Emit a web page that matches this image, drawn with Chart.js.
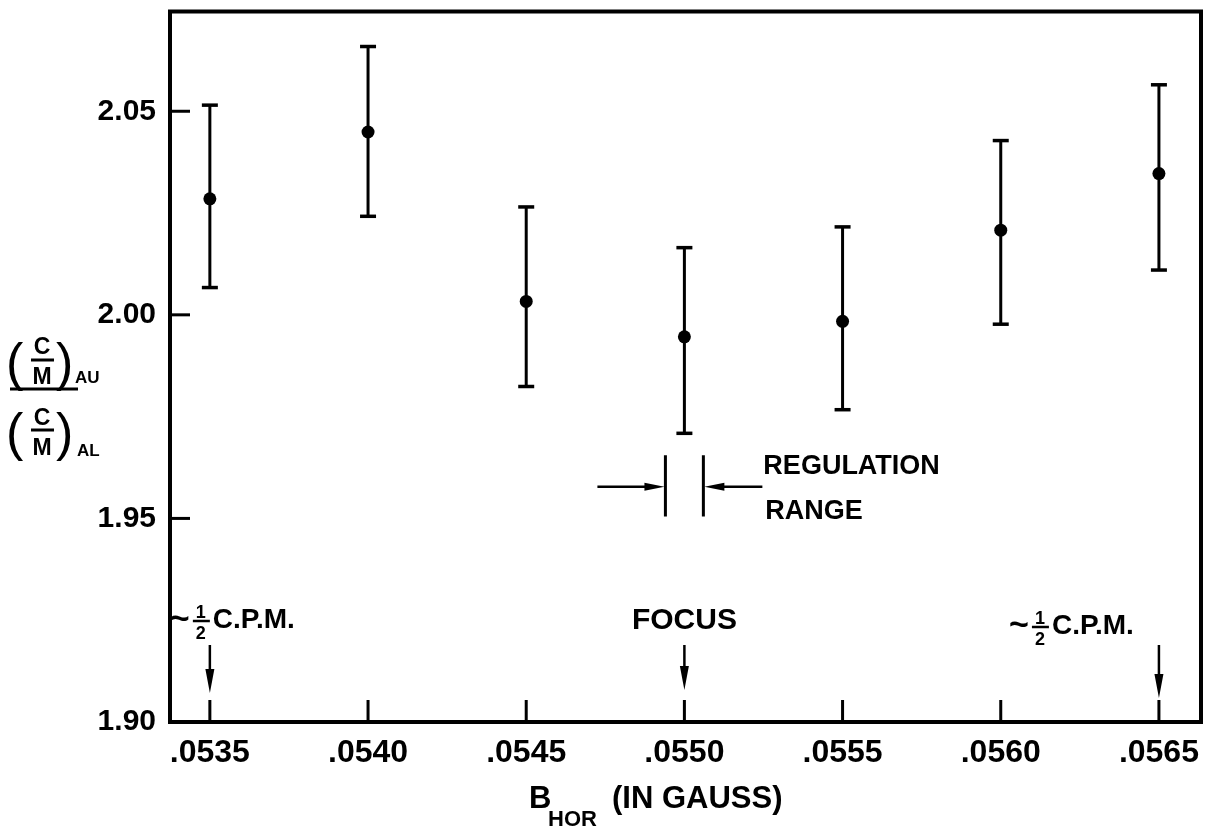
<!DOCTYPE html>
<html>
<head>
<meta charset="utf-8">
<script src="https://cdn.jsdelivr.net/npm/chart.js@4/dist/chart.umd.min.js"></script>
<style>
  html, body { margin: 0; padding: 0; background: #fff; }
  #wrap { width: 1226px; height: 830px; }
</style>
</head>
<body>
<div id="wrap"><canvas id="myChart" width="1226" height="830"></canvas></div>
<script>
// field values (gauss) and measured ratio with error bars
const bField = [0.0535, 0.0540, 0.0545, 0.0550, 0.0555, 0.0560, 0.0565];
const ratio  = [2.0285, 2.0449, 2.0033, 1.9946, 1.9984, 2.0208, 2.0347];
const errLow = [2.0067, 2.0242, 1.9824, 1.9709, 1.9767, 1.9977, 2.0110];
const errHigh = [2.0515, 2.0659, 2.0265, 2.0165, 2.0216, 2.0428, 2.0565];

const xTicks = [0.0535, 0.0540, 0.0545, 0.0550, 0.0555, 0.0560, 0.0565];
const yTicks = [1.90, 1.95, 2.00, 2.05];

// markers drawn on top of the plot (x in gauss)
const cpmLeft = 0.0535;
const focusAt = 0.0550;
const cpmRight = 0.0565;
const regLow = 0.05494;
const regHigh = 0.05506;

const FONT = "'Liberation Sans', Arial, sans-serif";

function arrowHead(ctx, x, y, dir, len, half) {
  // dir: 'down', 'left', 'right'
  ctx.beginPath();
  if (dir === "down") {
    ctx.moveTo(x, y); ctx.lineTo(x - half, y - len); ctx.lineTo(x + half, y - len);
  } else if (dir === "right") {
    ctx.moveTo(x, y); ctx.lineTo(x - len, y - half); ctx.lineTo(x - len, y + half);
  } else {
    ctx.moveTo(x, y); ctx.lineTo(x + len, y - half); ctx.lineTo(x + len, y + half);
  }
  ctx.closePath();
  ctx.fill();
}

function halfCpm(ctx, x0, y0) {
  // "~ 1/2 C.P.M." with a stacked fraction
  ctx.textBaseline = "alphabetic";
  ctx.textAlign = "left";
  ctx.font = "bold 34px " + FONT;
  ctx.fillText("~", x0 - 2, y0 + 6);
  ctx.font = "bold 18px " + FONT;
  ctx.textAlign = "center";
  ctx.fillText("1", x0 + 29, y0 - 5);
  ctx.fillText("2", x0 + 29, y0 + 16);
  ctx.lineWidth = 2.5;
  ctx.beginPath(); ctx.moveTo(x0 + 21, y0 - 2); ctx.lineTo(x0 + 38, y0 - 2); ctx.stroke();
  ctx.textAlign = "left";
  ctx.font = "bold 28px " + FONT;
  ctx.fillText("C.P.M.", x0 + 41, y0 + 5);
}

const framePlugin = {
  id: "frame",
  afterDraw(chart) {
    const { ctx, chartArea: a, scales: { x, y } } = chart;
    ctx.save();
    ctx.strokeStyle = "#000";
    ctx.fillStyle = "#000";
    ctx.lineWidth = 4;
    ctx.strokeRect(a.left, a.top, a.right - a.left, a.bottom - a.top);

    // inward ticks
    ctx.lineWidth = 3;
    yTicks.forEach(v => {
      const py = y.getPixelForValue(v);
      ctx.beginPath(); ctx.moveTo(a.left, py); ctx.lineTo(a.left + 20, py); ctx.stroke();
    });
    xTicks.forEach(v => {
      const px = x.getPixelForValue(v);
      ctx.beginPath(); ctx.moveTo(px, a.bottom); ctx.lineTo(px, a.bottom - 22); ctx.stroke();
    });

    // arrows down to the axis
    ctx.lineWidth = 2.5;
    [[cpmLeft, 693], [focusAt, 690], [cpmRight, 698]].forEach(([v, tip]) => {
      const px = x.getPixelForValue(v);
      ctx.beginPath(); ctx.moveTo(px, 645); ctx.lineTo(px, tip - 10); ctx.stroke();
      arrowHead(ctx, px, tip, "down", 24, 4.5);
    });

    halfCpm(ctx, x.getPixelForValue(cpmLeft) - 38, 623);
    halfCpm(ctx, x.getPixelForValue(cpmRight) - 148, 629);

    ctx.font = "bold 30px " + FONT;
    ctx.textAlign = "center";
    ctx.textBaseline = "alphabetic";
    ctx.fillText("FOCUS", x.getPixelForValue(focusAt), 629);

    // regulation range
    const rl = x.getPixelForValue(regLow), rh = x.getPixelForValue(regHigh);
    const rTop = y.getPixelForValue(1.9655), rBot = y.getPixelForValue(1.9505);
    const rMid = y.getPixelForValue(1.9578);
    ctx.lineWidth = 3;
    ctx.beginPath();
    ctx.moveTo(rl, rTop); ctx.lineTo(rl, rBot);
    ctx.moveTo(rh, rTop); ctx.lineTo(rh, rBot);
    ctx.stroke();
    ctx.lineWidth = 2.5;
    ctx.beginPath();
    ctx.moveTo(rl - 68, rMid); ctx.lineTo(rl - 10, rMid);
    ctx.moveTo(rh + 59, rMid); ctx.lineTo(rh + 10, rMid);
    ctx.stroke();
    arrowHead(ctx, rl - 1, rMid, "right", 20, 4);
    arrowHead(ctx, rh + 1, rMid, "left", 20, 4);
    ctx.textAlign = "left";
    ctx.font = "bold 27px " + FONT;
    ctx.fillText("REGULATION", rh + 60, 474);
    ctx.fillText("RANGE", rh + 62, 519);

    // x axis title
    ctx.font = "bold 31px " + FONT;
    ctx.fillText("B", 529, 808);
    ctx.font = "bold 22px " + FONT;
    ctx.fillText("HOR", 548, 826);
    ctx.font = "bold 31px " + FONT;
    ctx.fillText("(IN GAUSS)", 612, 808);

    // y axis title: (C/M)AU over (C/M)AL
    ctx.font = "52px " + FONT;
    ctx.fillText("(", 6, 380);
    ctx.fillText(")", 56, 380);
    ctx.fillText("(", 6, 450);
    ctx.fillText(")", 56, 450);
    ctx.font = "bold 23px " + FONT;
    ctx.textAlign = "center";
    ctx.fillText("C", 42, 354);
    ctx.fillText("M", 42, 384);
    ctx.fillText("C", 42, 425);
    ctx.fillText("M", 42, 455);
    ctx.font = "bold 17px " + FONT;
    ctx.textAlign = "left";
    ctx.fillText("AU", 75, 383);
    ctx.fillText("AL", 77, 456);
    ctx.lineWidth = 3;
    ctx.beginPath();
    ctx.moveTo(31, 360); ctx.lineTo(54, 360);
    ctx.moveTo(31, 430); ctx.lineTo(54, 430);
    ctx.moveTo(10, 389); ctx.lineTo(78, 389);
    ctx.stroke();
    ctx.restore();
  }
};

const errorSets = bField.map((b, i) => ({
  data: [{ x: b, y: errLow[i] }, { x: b, y: errHigh[i] }],
  showLine: true,
  borderColor: "#000",
  borderWidth: 3,
  pointStyle: "line",
  pointRadius: 8,
  pointBorderWidth: 3.5,
  pointBorderColor: "#000",
  clip: false
}));

const config = {
  type: "scatter",
  data: {
    datasets: [
      {
        data: bField.map((b, i) => ({ x: b, y: ratio[i] })),
        pointRadius: 6.5,
        pointBackgroundColor: "#000",
        pointBorderColor: "#000",
        pointBorderWidth: 0
      },
      ...errorSets
    ]
  },
  options: {
    responsive: false,
    animation: false,
    events: [],
    devicePixelRatio: 1,
    layout: { padding: { top: 10, right: 25, left: 0, bottom: 0 } },
    plugins: { legend: { display: false }, tooltip: { enabled: false } },
    scales: {
      x: {
        type: "linear",
        min: 0.053374,
        max: 0.056633,
        grid: { display: false, drawTicks: false },
        border: { display: false },
        afterBuildTicks: s => { s.ticks = xTicks.map(v => ({ value: v })); },
        afterFit: s => { s.height = 108; s.paddingLeft = 0; s.paddingRight = 0; },
        ticks: {
          padding: 12,
          color: "#000",
          font: { family: FONT, size: 32, weight: "bold" },
          callback: v => v.toFixed(4).replace(/^0/, "")
        }
      },
      y: {
        min: 1.90,
        max: 2.0745,
        grid: { display: false, drawTicks: false },
        border: { display: false },
        afterBuildTicks: s => { s.ticks = yTicks.map(v => ({ value: v })); },
        afterFit: s => { s.width = 170; s.paddingTop = 0; s.paddingBottom = 0; },
        ticks: {
          padding: 14,
          color: "#000",
          font: { family: FONT, size: 30, weight: "bold" },
          callback: v => v.toFixed(2)
        }
      }
    }
  },
  plugins: [framePlugin]
};

new Chart(document.getElementById("myChart"), config);
</script>
</body>
</html>
